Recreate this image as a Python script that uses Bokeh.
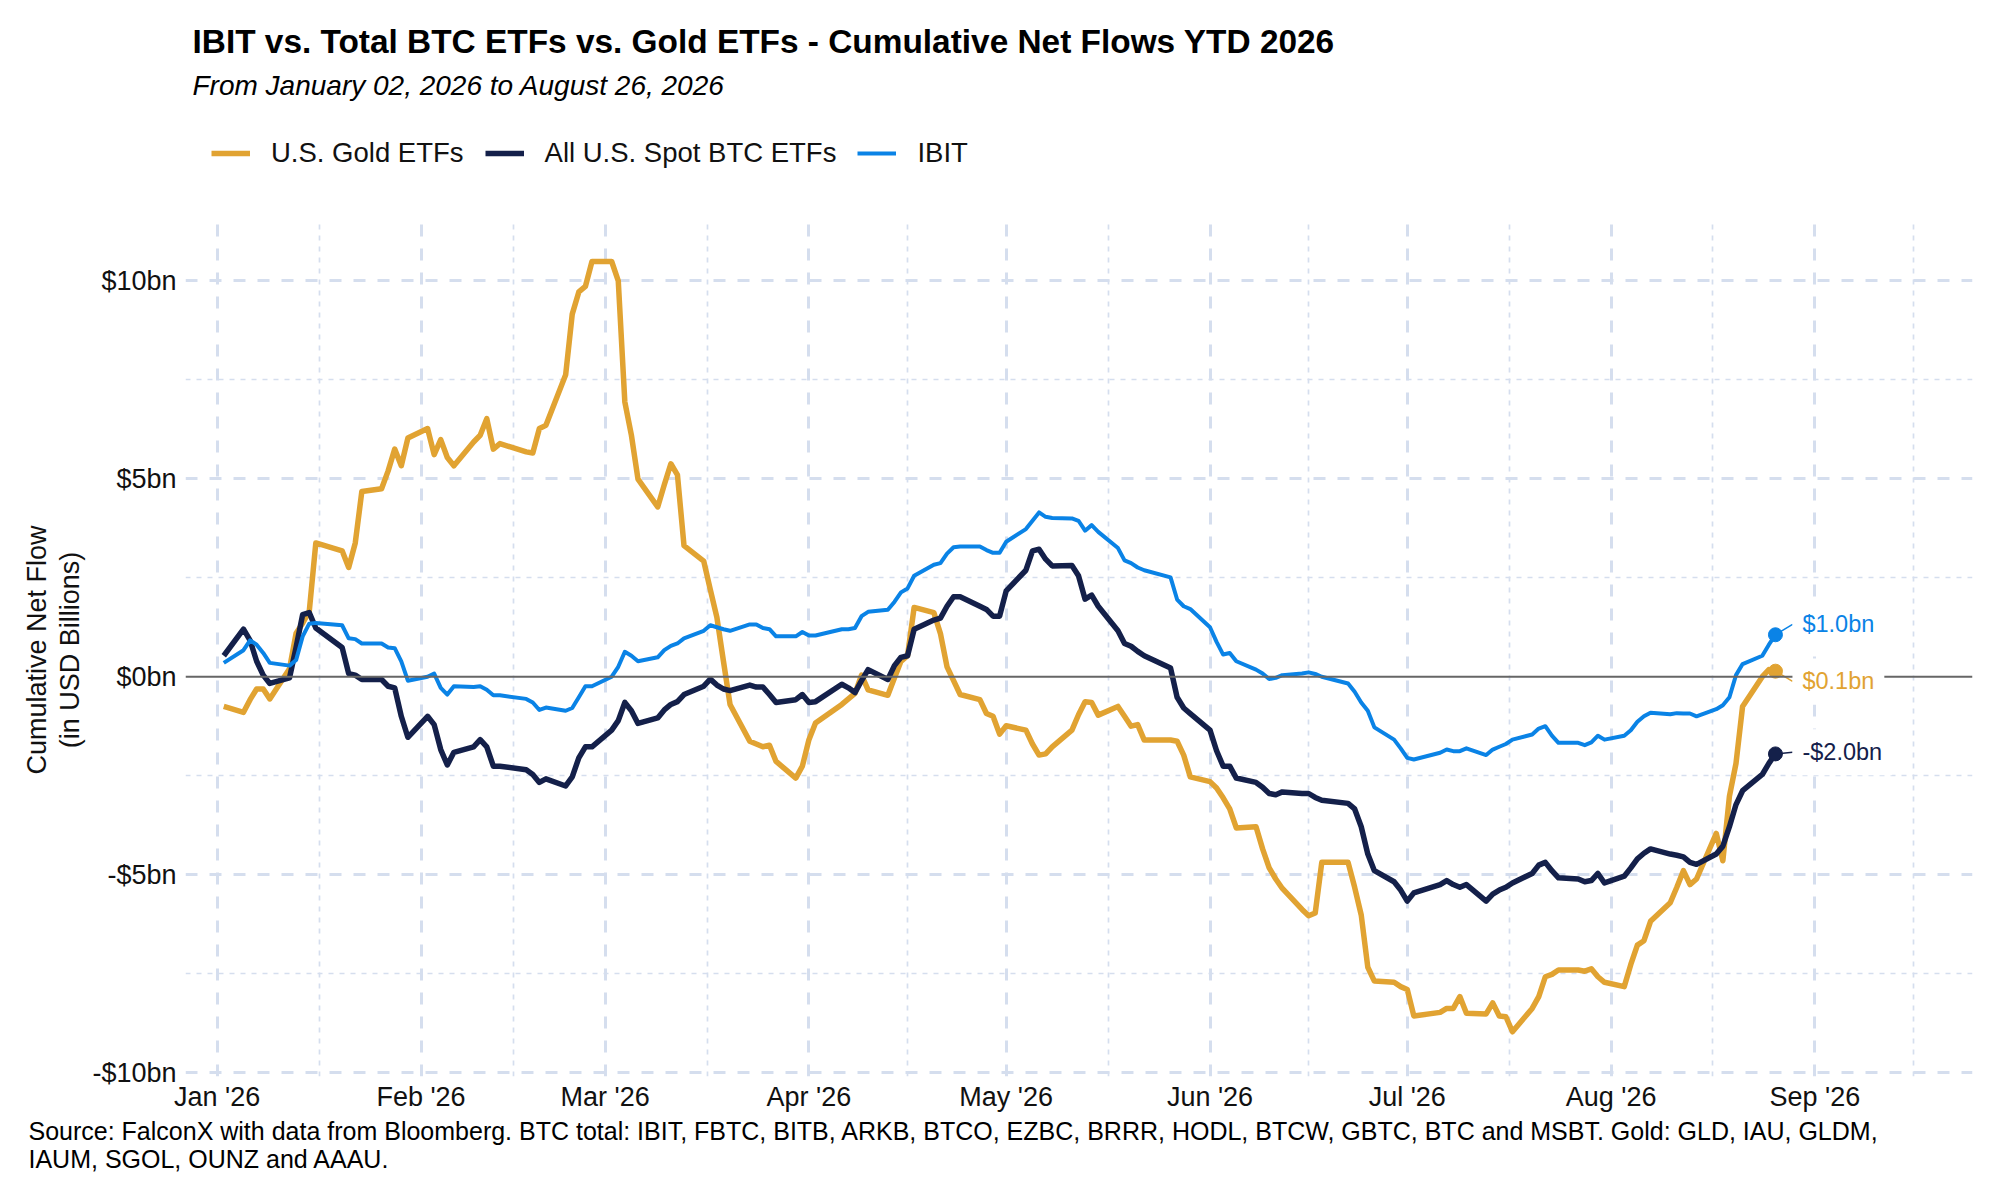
import numpy as np
import pandas as pd
from bokeh.plotting import figure
from bokeh.layouts import column
from bokeh.models import (Range1d, FixedTicker, DatetimeTickFormatter, Span,
                          Label, Legend, LegendItem, Title)
from bokeh.embed import file_html
from bokeh.resources import INLINE

# ---- data (cumulative net flows, USD bn) ----
MARKET_HOLIDAYS = ["2026-01-19", "2026-02-16", "2026-04-03",
                   "2026-05-25", "2026-06-19", "2026-07-03"]
dates = pd.bdate_range("2026-01-02", "2026-08-26", freq="C", holidays=MARKET_HOLIDAYS)

gold_etfs = [
    # Jan
    -0.75, -0.90, -0.58, -0.31, -0.31, -0.56, 0.20, 1.10, 1.35, 1.65, 3.38, 3.18, 2.76, 3.38, 4.68, 4.75, 5.20, 5.75, 5.33, 6.03,
    # Feb
    6.27, 5.61, 5.99, 5.54, 5.33, 5.93, 6.10, 6.52, 5.75, 5.89, 5.68, 5.65, 6.27, 6.35, 7.63, 9.16, 9.72, 9.86, 10.49,
    # Mar
    10.49, 10.00, 6.94, 6.10, 4.99, 4.29, 4.85, 5.38, 5.10, 3.31, 2.92, 2.20, 1.50, 0.39, -0.70, -1.63, -1.70, -1.77, -1.73, -2.14, -2.56, -2.26,
    # Apr
    -1.59, -1.17, -0.70, -0.56, -0.42, 0.04, -0.33, -0.47, -0.03, 0.39, 0.53, 1.75, 1.62, 1.09, 0.25, -0.10, -0.45, -0.58, -0.93, -1.00, -1.45,
    # May
    -1.24, -1.35, -1.70, -1.98, -1.95, -1.77, -1.35, -0.96, -0.63, -0.65, -0.97, -0.75, -1.00, -1.25, -1.21, -1.60, -1.60, -1.63, -1.98, -2.53,
    # Jun
    -2.65, -2.81, -3.06, -3.34, -3.82, -3.79, -4.35, -4.83, -5.11, -5.35, -5.88, -6.04, -5.97, -4.69, -4.69, -5.32, -6.02, -7.34, -7.69, -7.72, -7.83,
    # Jul
    -7.90, -8.57, -8.48, -8.38, -8.38, -8.08, -8.50, -8.52, -8.24, -8.57, -8.59, -8.97, -8.38, -8.08, -7.58, -7.52, -7.41, -7.41, -7.44, -7.38, -7.58, -7.72,
    # Aug
    -7.83, -7.27, -6.78, -6.67, -6.18, -5.71, -5.32, -4.90, -5.25, -5.11, -3.96, -4.65, -3.02, -2.19, -0.75, 0.00, 0.18, 0.14,
]

all_btc_etfs = [
    # Jan
    0.53, 1.20, 0.92, 0.39, 0.04, -0.17, -0.03, 0.74, 1.57, 1.62, 1.23, 0.74, 0.08, 0.04, -0.07, -0.07, -0.24, -0.28, -1.00, -1.53,
    # Feb
    -1.00, -1.21, -1.84, -2.23, -1.91, -1.77, -1.59, -1.77, -2.26, -2.26, -2.35, -2.47, -2.67, -2.58, -2.76, -2.53, -2.05, -1.77, -1.77,
    # Mar
    -1.35, -1.11, -0.65, -0.86, -1.18, -1.04, -0.84, -0.70, -0.63, -0.45, -0.24, -0.06, -0.21, -0.31, -0.35, -0.21, -0.26, -0.26, -0.45, -0.65, -0.58, -0.45,
    # Apr
    -0.65, -0.63, -0.19, -0.28, -0.40, -0.10, 0.18, -0.07, 0.28, 0.49, 0.53, 1.20, 1.43, 1.48, 1.78, 2.02, 2.02, 1.78, 1.70, 1.53, 1.53,
    # May
    2.17, 2.69, 3.18, 3.22, 2.97, 2.80, 2.81, 2.55, 1.96, 2.06, 1.78, 1.16, 0.84, 0.77, 0.64, 0.53, 0.22, -0.52, -0.79, -0.93,
    # Jun
    -1.35, -1.87, -2.26, -2.26, -2.56, -2.67, -2.79, -2.95, -2.98, -2.91, -2.95, -2.95, -3.05, -3.12, -3.20, -3.34, -3.79, -4.48, -4.90, -5.18, -5.39,
    # Jul
    -5.67, -5.46, -5.25, -5.15, -5.25, -5.32, -5.25, -5.67, -5.49, -5.39, -5.32, -5.21, -4.97, -4.76, -4.69, -4.90, -5.08, -5.11, -5.18, -5.15, -4.97, -5.21,
    # Aug
    -5.04, -4.83, -4.60, -4.46, -4.35, -4.48, -4.51, -4.55, -4.69, -4.74, -4.48, -4.28, -3.79, -3.23, -2.88, -2.47, -2.19, -1.95,
]

ibit = [
    # Jan
    0.35, 0.67, 0.92, 0.81, 0.60, 0.35, 0.28, 0.42, 1.02, 1.34, 1.36, 1.30, 0.97, 0.95, 0.84, 0.84, 0.74, 0.72, 0.39, -0.10,
    # Feb
    0.00, 0.08, -0.28, -0.45, -0.24, -0.26, -0.24, -0.33, -0.47, -0.47, -0.56, -0.65, -0.84, -0.78, -0.86, -0.79, -0.52, -0.24, -0.24,
    # Mar
    0.00, 0.25, 0.63, 0.53, 0.39, 0.49, 0.67, 0.78, 0.84, 0.97, 1.16, 1.30, 1.25, 1.20, 1.16, 1.32, 1.32, 1.23, 1.20, 1.02, 1.02, 1.13,
    # Apr
    1.04, 1.04, 1.20, 1.20, 1.23, 1.53, 1.64, 1.69, 1.89, 2.13, 2.23, 2.55, 2.83, 2.87, 3.11, 3.27, 3.29, 3.29, 3.20, 3.13, 3.13,
    # May
    3.41, 3.73, 3.94, 4.15, 4.04, 4.01, 4.00, 3.94, 3.69, 3.83, 3.66, 3.25, 2.94, 2.87, 2.76, 2.69, 2.51, 1.95, 1.78, 1.71,
    # Jun
    1.25, 0.88, 0.56, 0.60, 0.39, 0.18, 0.08, -0.06, -0.03, 0.04, 0.08, 0.11, 0.07, 0.00, -0.17, -0.38, -0.65, -0.86, -1.28, -1.59, -1.81,
    # Jul
    -2.05, -2.09, -1.92, -1.84, -1.88, -1.88, -1.81, -1.98, -1.84, -1.77, -1.70, -1.59, -1.46, -1.31, -1.25, -1.49, -1.67, -1.67, -1.73, -1.66, -1.49, -1.59,
    # Aug
    -1.49, -1.35, -1.14, -1.00, -0.91, -0.95, -0.92, -0.93, -0.93, -1.00, -0.82, -0.72, -0.52, 0.04, 0.32, 0.53, 0.81, 1.06,
]

series_names = ["U.S. Gold ETFs", "All U.S. Spot BTC ETFs", "IBIT"]
series_values = [gold_etfs, all_btc_etfs, ibit]
end_labels = ["$0.1bn", "-$2.0bn", "$1.0bn"]

month_ticks = ["2026-01-01", "2026-02-01", "2026-03-01", "2026-04-01", "2026-05-01",
               "2026-06-01", "2026-07-01", "2026-08-01", "2026-09-01", "2026-10-01"]
y_ticks = [-10, -5, 0, 5, 10]
y_minor_ticks = [-7.5, -2.5, 2.5, 7.5]
y_tick_labels = ["-$10bn", "-$5bn", "$0bn", "$5bn", "$10bn"]

TITLE = "IBIT vs. Total BTC ETFs vs. Gold ETFs - Cumulative Net Flows YTD 2026"
SUBTITLE = "From January 02, 2026 to August 26, 2026"
Y_TITLE = "Cumulative Net Flow\n(in USD Billions)"
SOURCE = ["Source: FalconX with data from Bloomberg.  BTC total: IBIT, FBTC, BITB, ARKB, BTCO, "
          "EZBC, BRRR, HODL, BTCW, GBTC, BTC and MSBT. Gold: GLD, IAU, GLDM,",
          "IAUM, SGOL, OUNZ and AAAU."]

for vals in series_values:
    assert len(vals) == len(dates), (len(vals), len(dates))

# ---- style ----
FONT = "Liberation Sans"
COLORS = ["#E1A332", "#14204A", "#0A83E6"]
WIDTHS = [5.5, 5.5, 4]
GRID = "#D5DEEE"
LABEL_SHIFT = [-0.26, 0.04, 0.26]   # repelled end-label offsets (bn)

W = 1984
HEAD_H = 223
PLOT_H = 1184 - HEAD_H
FRAME_LEFT = 185


def ms(ts):
    return pd.Timestamp(ts).timestamp() * 1000.0


# ---- header: title, subtitle, legend (frame is aligned with the main plot) ----
head = figure(width=W, height=HEAD_H, x_axis_type=None, y_axis_type=None,
              x_range=Range1d(0, 1), y_range=Range1d(0, 1),
              output_backend="svg", toolbar_location=None,
              min_border_left=FRAME_LEFT, min_border_right=12,
              min_border_top=0, min_border_bottom=0)
head.outline_line_color = None


def note(text, x, y, size, style="normal"):
    head.add_layout(Label(x=x, y=y, x_units="screen", y_units="screen", text=text,
                          text_font=FONT, text_font_size=size, text_font_style=style,
                          text_color="#000000", text_baseline="middle"))


note(TITLE, 192 - FRAME_LEFT, HEAD_H - 41, "33.4px", "bold")
note(SUBTITLE, 192 - FRAME_LEFT, HEAD_H - 85, "28px", "italic")

items = []
for name, col, w in zip(series_names, COLORS, WIDTHS):
    # legend proxies: a single point sits outside the header range, so draws nothing
    r = head.line(x=[0], y=[-1], line_color=col, line_width=w)
    items.append(LegendItem(label=name, renderers=[r]))
head.add_layout(Legend(items=items, location=(211 - FRAME_LEFT, HEAD_H - 153 - 16),
                       orientation="horizontal",
                       glyph_width=39, glyph_height=32, label_height=32,
                       label_standoff=21, spacing=21, padding=0, margin=0,
                       label_text_font=FONT, label_text_font_size="27.5px",
                       label_text_color="#111111",
                       border_line_alpha=0, background_fill_alpha=0))

# ---- main plot ----
jan1 = pd.Timestamp("2026-01-01")
x_start = jan1 - pd.Timedelta(days=4.82)
x_end = jan1 + pd.Timedelta(days=266.97)

p = figure(width=W, height=PLOT_H, x_axis_type="datetime",
           x_range=Range1d(x_start, x_end), y_range=Range1d(-10.1, 11.45),
           output_backend="svg", toolbar_location=None,
           min_border_left=FRAME_LEFT, min_border_right=12,
           min_border_top=0, min_border_bottom=1184 - 1076)
p.outline_line_color = None

major_x = [ms(t) for t in month_ticks[:-1]]
minor_x = [(ms(a) + ms(b)) / 2 for a, b in zip(month_ticks[:-1], month_ticks[1:])]
p.xaxis.ticker = FixedTicker(ticks=major_x, minor_ticks=minor_x)
p.xaxis.formatter = DatetimeTickFormatter(days="%b '%y", months="%b '%y", years="%b '%y")
p.yaxis.ticker = FixedTicker(ticks=y_ticks, minor_ticks=y_minor_ticks)
p.yaxis.major_label_overrides = dict(zip(y_ticks, y_tick_labels))

p.ygrid.ticker = FixedTicker(ticks=[t for t in y_ticks if t != 0], minor_ticks=y_minor_ticks)
for g in (p.xgrid, p.ygrid):
    g.grid_line_color = GRID
    g.grid_line_width = 3
    g.grid_line_dash = "12 12"
    g.minor_grid_line_color = GRID
    g.minor_grid_line_width = 1.7
    g.minor_grid_line_dash = "5 6"

for ax in (p.xaxis, p.yaxis):
    ax.axis_line_color = None
    ax.major_tick_line_color = None
    ax.minor_tick_line_color = None
    ax.major_tick_out = 0
    ax.major_tick_in = 0
    ax.minor_tick_out = 0
    ax.minor_tick_in = 0
    ax.major_label_text_font = FONT
    ax.major_label_text_font_size = "27px"
    ax.major_label_text_color = "#111111"
p.xaxis.major_label_standoff = 5
p.yaxis.major_label_standoff = 9
p.yaxis.axis_label = Y_TITLE
p.yaxis.axis_label_text_font = FONT
p.yaxis.axis_label_text_font_size = "27px"
p.yaxis.axis_label_text_font_style = "normal"
p.yaxis.axis_label_text_color = "#111111"
p.yaxis.axis_label_text_line_height = 1.1
p.yaxis.axis_label_standoff = 4

p.add_layout(Span(location=0, dimension="width", line_color="#666666", line_width=2))

for vals, col, w in zip(series_values, COLORS, WIDTHS):
    p.line(dates, vals, line_color=col, line_width=w, line_join="round")

last = dates[-1]
leader_end = last + pd.Timedelta(days=2.6)
for vals, col, txt, shift in zip(series_values, COLORS, end_labels, LABEL_SHIFT):
    end_val = vals[-1]
    p.segment(x0=[last], y0=[end_val], x1=[leader_end], y1=[end_val + shift],
              line_color=col, line_width=1.5)
    p.scatter([last], [end_val], size=14, color=col)
    p.add_layout(Label(x=ms(last), y=end_val + shift, text=txt, x_offset=17,
                       text_font=FONT, text_font_size="23.5px", text_color=col,
                       text_baseline="middle", background_fill_color="white",
                       padding=10))

# source note under the x axis
p.add_layout(Title(text="\n".join(SOURCE), align="left", offset=28 - FRAME_LEFT,
                   vertical_align="top", standoff=5,
                   text_font=FONT, text_font_size="25px", text_font_style="normal",
                   text_color="#000000", text_line_height=1.0), "below")

layout = column(head, p, spacing=0)
open("out.html", "w").write(file_html(layout, INLINE))
